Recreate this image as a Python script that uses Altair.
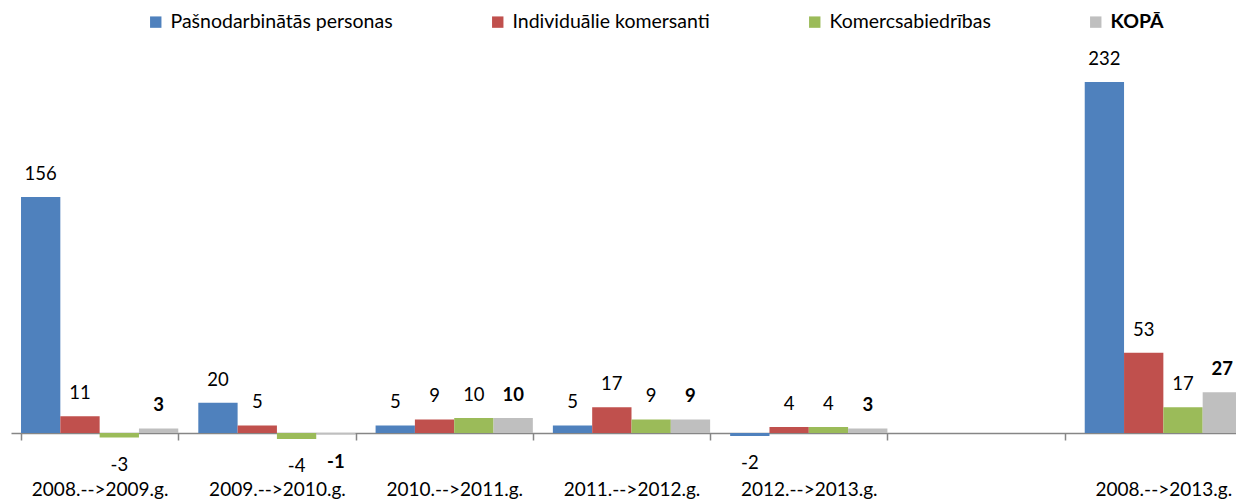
import altair as alt
import pandas as pd

categories = ["2008.-->2009.g.", "2009.-->2010.g.", "2010.-->2011.g.",
              "2011.-->2012.g.", "2012.-->2013.g.", " ", "2008.-->2013.g."]
series = ["Pašnodarbinātās personas", "Individuālie komersanti",
          "Komercsabiedrības", "KOPĀ"]
pasnodarbinatas = [156, 20, 5, 5, -2, None, 232]
individualie = [11, 5, 9, 17, 4, None, 53]
komercsabiedribas = [-3, -4, 10, 9, 4, None, 17]
kopa = [3, -1, 10, 9, 3, None, 27]
colors = ["#4F81BD", "#C0504D", "#9BBB59", "#BFBFBF"]

rows = []
for s, vals in zip(series, [pasnodarbinatas, individualie, komercsabiedribas, kopa]):
    for c, v in zip(categories, vals):
        if v is not None:
            rows.append({"cat": c, "series": s, "value": v, "label": str(v),
                         "pos": v >= 0, "bold": s == "KOPĀ"})
df = pd.DataFrame(rows)

FONT = "Lato"

x = alt.X("cat:N", sort=categories, title=None,
          scale=alt.Scale(domain=categories, paddingInner=0.113, paddingOuter=0.0565,
                          range=[0, 1241]),
          axis=alt.Axis(orient="bottom", domainColor="#868686", domainWidth=1.5,
                        tickColor="#868686", tickWidth=1.5, tickSize=7, tickBand="extent",
                        labelFont=FONT, labelFontSize=19, labelColor="black",
                        labelPadding=40, labelAngle=0, labelLimit=0))
xo = alt.XOffset("series:N", sort=series,
                 scale=alt.Scale(domain=series, paddingInner=0, paddingOuter=0))
y = alt.Y("value:Q", title=None, axis=None,
          scale=alt.Scale(domain=[0, 281], nice=False, zero=True))

base = alt.Chart(df)

bars = base.mark_bar().encode(
    x=x, xOffset=xo, y=y,
    color=alt.Color("series:N", sort=series, title=None,
                    scale=alt.Scale(domain=series, range=colors),
                    legend=alt.Legend(orient="none", legendX=135, legendY=4,
                                      direction="horizontal", columns=4,
                                      symbolType="square", symbolSize=130,
                                      symbolStrokeWidth=0, symbolOpacity=1,
                                      labelFont=FONT, labelFontSize=19.5,
                                      labelColor="black", labelOffset=5, labelLimit=0,
                                      columnPadding=95, padding=0,
                                      labelFontWeight={"expr": "datum.label === 'KOPĀ' ? 'bold' : 'normal'"})),
)

def labels(pos, bold):
    return base.mark_text(
        dy=-23 if pos else 27, baseline="middle", align="center",
        font=FONT, fontSize=18.5, color="black",
        fontWeight="bold" if bold else "normal",
    ).encode(x=x, xOffset=xo, y=y, text=alt.Text("label:N")).transform_filter(
        (alt.datum.pos == pos) & (alt.datum.bold == bold))

chart = alt.layer(
    bars,
    labels(True, False), labels(False, False), labels(True, True), labels(False, True),
).properties(
    width=1225, height=425,
    padding={"left": 3, "top": 0, "right": 0, "bottom": 67},
    autosize=alt.AutoSizeParams(type="none"),
).configure_view(stroke=None)

chart.save("out.html", embed_options={"renderer": "svg", "actions": False})
